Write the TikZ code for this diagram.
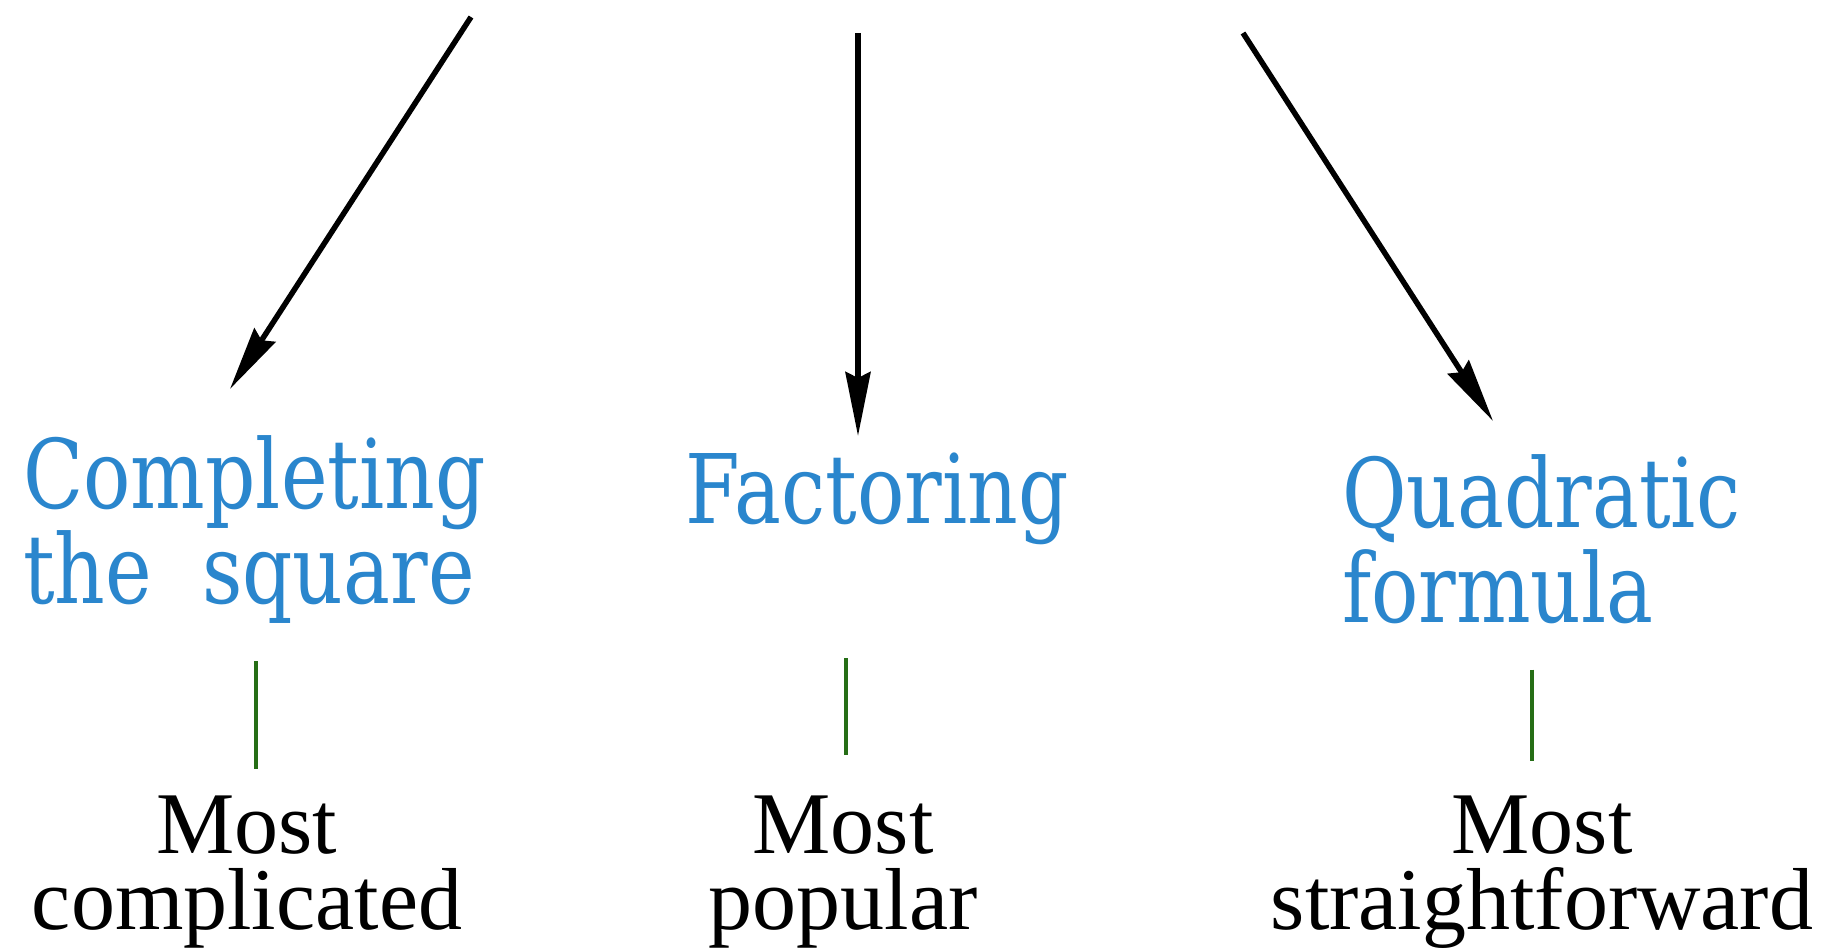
\documentclass[tikz,border=0pt]{standalone}
\usepackage{fontspec}
\usetikzlibrary{arrows.meta,calc}
\newfontfamily\bluefont[FakeStretch=0.82]{DejaVu Serif}
\newfontfamily\blackfont{Liberation Serif}
\definecolor{methodblue}{RGB}{42,134,205}
\definecolor{linegreen}{RGB}{38,110,22}
\begin{document}
\begin{tikzpicture}[x=1pt,y=-1pt,
  method/.style={anchor=north west,align=left,inner sep=0pt,text=methodblue,font=\bluefont\fontsize{96}{95}\selectfont},
  remark/.style={anchor=north,align=center,inner sep=0pt,text=black,font=\blackfont\fontsize{88}{76}\selectfont},
  arr/.style={line width=5.5pt,-{Stealth[length=64pt,width=25pt,inset=6pt]}},
  gline/.style={line width=4.5pt,draw=linegreen}]
\fill[white] (0,0) rectangle (1822,952);
\useasboundingbox (0,0) rectangle (1822,952);
% methods
\node[method] (cts) at (23,435) {Completing\\the\ \ square};
\node[method] (fac) at (685,453) {Factoring};
\node[method] (qf) at (1342,454) {Quadratic\\formula};
% remarks
\node[remark] (mc) at (247,796) {Most\\complicated};
\node[remark] (mp) at (843,796) {Most\\popular};
\node[remark] (ms) at (1542,796) {Most\\straightforward};
% arrow origins
\coordinate (s1) at (471,17);
\coordinate (s2) at (858,33);
\coordinate (s3) at (1243,33);
\draw[arr] (s1) -- ($(cts.north west)+(207,-46)$);
\draw[arr] (s2) -- ($(fac.north west)+(173,-17)$);
\draw[arr] (s3) -- ($(qf.north west)+(151,-33)$);
% green connectors
\draw[gline,shorten <=38pt,shorten >=27pt] ([xshift=9pt]mc.north |- cts.south) -- ([xshift=9pt]mc.north);
\draw[gline,shorten <=113pt,shorten >=41pt] ([xshift=3pt]mp.north |- fac.south) -- ([xshift=3pt]mp.north);
\draw[gline,shorten <=46pt,shorten >=35pt] ([xshift=-10pt]ms.north |- qf.south) -- ([xshift=-10pt]ms.north);
\end{tikzpicture}
\end{document}
